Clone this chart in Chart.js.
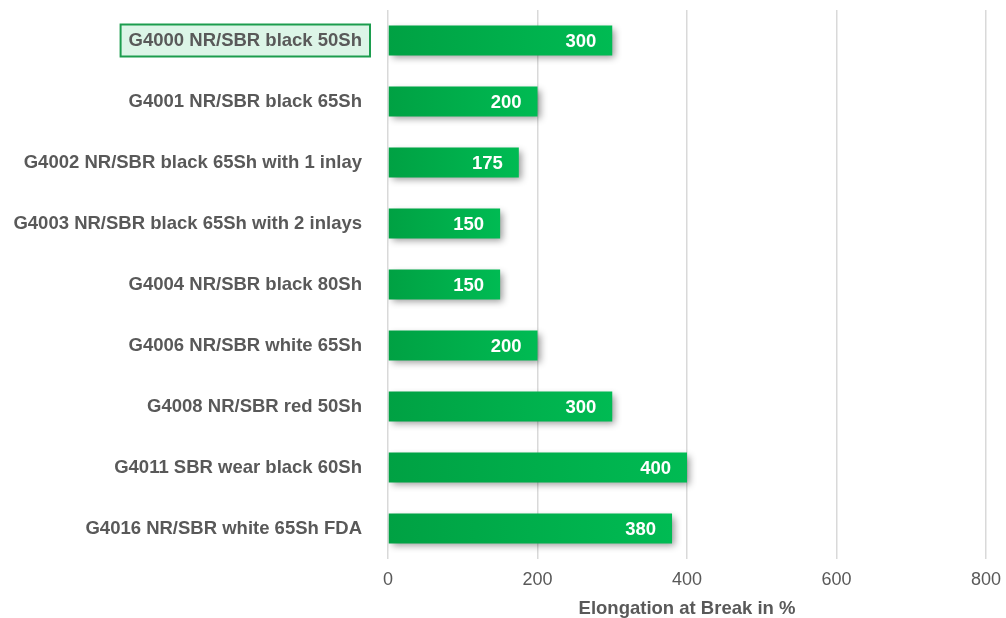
<!DOCTYPE html>
<html>
<head>
<meta charset="utf-8">
<script src="https://cdn.jsdelivr.net/npm/chart.js@4"></script>
<style>
  html, body { margin: 0; padding: 0; background: #fff; overflow: hidden; }
  #wrap { width: 1006px; height: 618px; }
</style>
</head>
<body>
<div id="wrap"><canvas id="chart"></canvas></div>
<script>
var categories = [
  "G4000 NR/SBR black 50Sh",
  "G4001 NR/SBR black 65Sh",
  "G4002 NR/SBR black 65Sh with 1 inlay",
  "G4003 NR/SBR black 65Sh with 2 inlays",
  "G4004 NR/SBR black 80Sh",
  "G4006 NR/SBR white 65Sh",
  "G4008 NR/SBR red 50Sh",
  "G4011 SBR wear black 60Sh",
  "G4016 NR/SBR white 65Sh FDA"
];
var elongation = [300, 200, 175, 150, 150, 200, 300, 400, 380];
var xTicks = [0, 200, 400, 600, 800];

var FONT = "'Liberation Sans', Arial, sans-serif";
var GREY = "#595959";
var FS = 18.5;

function barGradient(c) {
  var chart = c.chart;
  if (!chart.chartArea || c.raw == null) return "#00ad48";
  var x = chart.scales.x;
  var x0 = x.getPixelForValue(0), x1 = x.getPixelForValue(c.raw);
  var g = chart.ctx.createLinearGradient(x0, 0, x1, 0);
  g.addColorStop(0, "#00a143");
  g.addColorStop(1, "#00bb53");
  return g;
}

// box behind the first category label
var highlightLabel = {
  id: "highlightLabel",
  beforeDraw: function (chart) {
    var ys = chart.scales.y;
    var ctx = chart.ctx;
    var pad = ys.options.ticks.padding;
    var right = ys.right - pad;
    var y = ys.getPixelForTick(0);
    ctx.save();
    ctx.font = "bold " + FS + "px " + FONT;
    var w = ctx.measureText(categories[0]).width;
    ctx.fillStyle = "#dcf5e7";
    ctx.strokeStyle = "#1c9d4e";
    ctx.lineWidth = 2;
    ctx.fillRect(right - w - 8, y - 16, w + 16, 32);
    ctx.strokeRect(right - w - 8, y - 16, w + 16, 32);
    ctx.restore();
  }
};

var barShadow = {
  id: "barShadow",
  beforeDatasetsDraw: function (chart) {
    var ctx = chart.ctx;
    ctx.save();
    ctx.shadowColor = "rgba(0,0,0,0.4)";
    ctx.shadowBlur = 7;
    ctx.shadowOffsetX = 3;
    ctx.shadowOffsetY = 3;
  },
  afterDatasetsDraw: function (chart) {
    var ctx = chart.ctx;
    ctx.restore();
    ctx.save();
    ctx.font = "bold " + FS + "px " + FONT;
    ctx.fillStyle = "#ffffff";
    ctx.textAlign = "right";
    ctx.textBaseline = "middle";
    chart.getDatasetMeta(0).data.forEach(function (bar, i) {
      ctx.fillText(String(elongation[i]), bar.x - 16, bar.y + 1);
    });
    ctx.restore();
  }
};

new Chart(document.getElementById("chart"), {
  type: "bar",
  data: {
    labels: categories,
    datasets: [{
      data: elongation,
      backgroundColor: barGradient,
      borderWidth: 0,
      barPercentage: 0.98,
      categoryPercentage: 0.5
    }]
  },
  options: {
    indexAxis: "y",
    responsive: true,
    maintainAspectRatio: false,
    animation: false,
    layout: { padding: { top: 10, right: 20, left: 0, bottom: 0 } },
    plugins: { legend: { display: false }, tooltip: { enabled: false } },
    scales: {
      x: {
        min: 0,
        max: 800,
        afterBuildTicks: function (scale) {
          scale.ticks = xTicks.map(function (v) { return { value: v }; });
        },
        afterFit: function (scale) {
          scale.height = 59;
          scale.paddingLeft = 0;
          scale.paddingRight = 0;
        },
        grid: { color: "#d9d9d9", lineWidth: 1.5, drawTicks: false },
        border: { display: false },
        ticks: { color: GREY, padding: 10, font: { family: FONT, size: 18 } },
        title: {
          display: true,
          text: "Elongation at Break in %",
          color: GREY,
          padding: { top: 0, bottom: 0 },
          font: { family: FONT, size: FS, weight: "bold", lineHeight: 1 }
        }
      },
      y: {
        grid: { display: false, drawTicks: false },
        border: { display: false },
        afterFit: function (scale) {
          scale.width = 388;
          scale.paddingTop = 0;
          scale.paddingBottom = 0;
        },
        ticks: { color: GREY, padding: 26, font: { family: FONT, size: FS, weight: "bold" } }
      }
    }
  },
  plugins: [highlightLabel, barShadow]
});
</script>
</body>
</html>
